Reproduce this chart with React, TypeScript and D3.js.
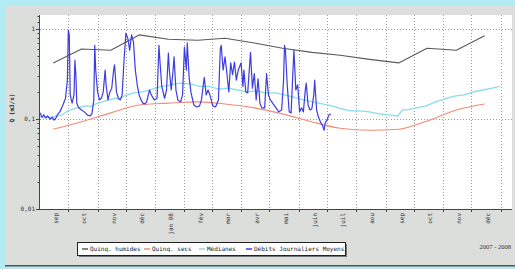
import { useEffect } from "react";
import * as d3 from "d3";

const W = 515;
const H = 269;

// month labels under the x axis (one per month, Sep 2007 .. Dec 2008)
const monthLabels = ["sep", "oct", "nov", "déc", "jan 08", "fév", "mar", "avr", "mai", "juin", "juil", "aou", "sep", "oct", "nov", "déc"];

const yTicks = [0.01, 0.1, 1];
const yTickLabels = ["0,01", "0,1", "1"];

// monthly reference curves (mid-month points)
const monthlyDates = ["2007-09-15", "2007-10-15", "2007-11-15", "2007-12-15", "2008-01-15", "2008-02-15", "2008-03-15", "2008-04-15", "2008-05-15", "2008-06-15", "2008-07-15", "2008-08-15", "2008-09-15", "2008-10-15", "2008-11-15", "2008-12-15"];
const wetQuintile = [0.42, 0.6, 0.58, 0.86, 0.77, 0.75, 0.79, 0.7, 0.61, 0.55, 0.51, 0.46, 0.42, 0.61, 0.58, 0.84];
const dryQuintile = [0.077, 0.093, 0.117, 0.143, 0.15, 0.155, 0.147, 0.133, 0.114, 0.093, 0.079, 0.075, 0.077, 0.095, 0.126, 0.147];

// medians
const medianDates = ["2007-09-01", "2007-09-10", "2007-09-20", "2007-09-25", "2007-09-30", "2007-10-10", "2007-10-20", "2007-10-25", "2007-10-30", "2007-11-09", "2007-11-19", "2007-11-24", "2007-11-29", "2007-12-09", "2007-12-19", "2007-12-29", "2008-01-08", "2008-01-18", "2008-01-28", "2008-02-07", "2008-02-17", "2008-02-27", "2008-03-08", "2008-03-18", "2008-03-28", "2008-04-07", "2008-04-17", "2008-04-27", "2008-05-07", "2008-05-17", "2008-05-27", "2008-06-06", "2008-06-16", "2008-06-26", "2008-07-06", "2008-07-16", "2008-07-26", "2008-08-05", "2008-08-15", "2008-08-25", "2008-09-04", "2008-09-14", "2008-09-19", "2008-09-24", "2008-10-04", "2008-10-14", "2008-10-24", "2008-11-03", "2008-11-13", "2008-11-23", "2008-12-03", "2008-12-13", "2008-12-23", "2008-12-31"];
const medianFlows = [0.105, 0.103, 0.108, 0.112, 0.122, 0.133, 0.14, 0.138, 0.147, 0.158, 0.17, 0.166, 0.18, 0.195, 0.2, 0.215, 0.23, 0.24, 0.25, 0.245, 0.23, 0.23, 0.215, 0.22, 0.21, 0.2, 0.205, 0.195, 0.195, 0.185, 0.175, 0.163, 0.155, 0.147, 0.14, 0.13, 0.123, 0.123, 0.12, 0.114, 0.111, 0.108, 0.126, 0.126, 0.133, 0.14, 0.155, 0.167, 0.18, 0.185, 0.2, 0.21, 0.22, 0.23];

// daily mean flows 2007-2008
const dailyDates = ["2007-09-01", "2007-09-03", "2007-09-05", "2007-09-07", "2007-09-09", "2007-09-12", "2007-09-14", "2007-09-16", "2007-09-18", "2007-09-20", "2007-09-22", "2007-09-24", "2007-09-26", "2007-09-28", "2007-09-30", "2007-10-01", "2007-10-02", "2007-10-03", "2007-10-05", "2007-10-07", "2007-10-08", "2007-10-09", "2007-10-10", "2007-10-12", "2007-10-15", "2007-10-18", "2007-10-21", "2007-10-24", "2007-10-26", "2007-10-28", "2007-10-29", "2007-10-30", "2007-11-01", "2007-11-03", "2007-11-05", "2007-11-07", "2007-11-09", "2007-11-10", "2007-11-12", "2007-11-14", "2007-11-16", "2007-11-18", "2007-11-19", "2007-11-21", "2007-11-23", "2007-11-25", "2007-11-27", "2007-11-29", "2007-12-01", "2007-12-03", "2007-12-05", "2007-12-07", "2007-12-09", "2007-12-11", "2007-12-13", "2007-12-15", "2007-12-17", "2007-12-19", "2007-12-21", "2007-12-23", "2007-12-26", "2007-12-28", "2007-12-31", "2008-01-03", "2008-01-05", "2008-01-06", "2008-01-08", "2008-01-11", "2008-01-13", "2008-01-15", "2008-01-16", "2008-01-18", "2008-01-20", "2008-01-21", "2008-01-23", "2008-01-25", "2008-01-28", "2008-01-30", "2008-02-01", "2008-02-03", "2008-02-04", "2008-02-06", "2008-02-08", "2008-02-11", "2008-02-14", "2008-02-17", "2008-02-19", "2008-02-22", "2008-02-24", "2008-02-26", "2008-02-28", "2008-03-02", "2008-03-05", "2008-03-08", "2008-03-10", "2008-03-11", "2008-03-13", "2008-03-15", "2008-03-17", "2008-03-19", "2008-03-21", "2008-03-23", "2008-03-25", "2008-03-27", "2008-03-29", "2008-04-01", "2008-04-03", "2008-04-04", "2008-04-06", "2008-04-08", "2008-04-11", "2008-04-13", "2008-04-15", "2008-04-17", "2008-04-19", "2008-04-21", "2008-04-23", "2008-04-26", "2008-04-28", "2008-04-30", "2008-05-02", "2008-05-05", "2008-05-08", "2008-05-11", "2008-05-14", "2008-05-16", "2008-05-17", "2008-05-18", "2008-05-20", "2008-05-22", "2008-05-24", "2008-05-26", "2008-05-27", "2008-05-29", "2008-05-31", "2008-06-02", "2008-06-04", "2008-06-06", "2008-06-08", "2008-06-09", "2008-06-11", "2008-06-13", "2008-06-15", "2008-06-17", "2008-06-18", "2008-06-20", "2008-06-22", "2008-06-24", "2008-06-26", "2008-06-28", "2008-06-29", "2008-07-01", "2008-07-03", "2008-07-05"];
const dailyFlows = [0.117, 0.105, 0.111, 0.103, 0.108, 0.1, 0.105, 0.097, 0.103, 0.114, 0.12, 0.133, 0.15, 0.17, 0.27, 0.97, 0.86, 0.185, 0.15, 0.185, 0.45, 0.31, 0.15, 0.133, 0.126, 0.12, 0.111, 0.108, 0.114, 0.163, 0.66, 0.35, 0.2, 0.163, 0.17, 0.2, 0.35, 0.24, 0.163, 0.2, 0.22, 0.35, 0.4, 0.2, 0.17, 0.163, 0.185, 0.45, 0.9, 0.79, 0.58, 0.86, 0.72, 0.35, 0.24, 0.185, 0.163, 0.15, 0.147, 0.155, 0.21, 0.185, 0.163, 0.17, 0.66, 0.45, 0.23, 0.17, 0.21, 0.54, 0.35, 0.21, 0.35, 0.49, 0.21, 0.163, 0.155, 0.185, 0.63, 0.35, 0.7, 0.29, 0.195, 0.143, 0.136, 0.14, 0.163, 0.29, 0.185, 0.21, 0.185, 0.14, 0.136, 0.163, 0.6, 0.66, 0.35, 0.49, 0.32, 0.2, 0.42, 0.31, 0.43, 0.27, 0.35, 0.42, 0.23, 0.35, 0.2, 0.195, 0.55, 0.22, 0.32, 0.163, 0.28, 0.15, 0.133, 0.133, 0.32, 0.185, 0.163, 0.147, 0.133, 0.12, 0.126, 0.27, 0.66, 0.58, 0.23, 0.12, 0.117, 0.35, 0.58, 0.21, 0.24, 0.12, 0.133, 0.12, 0.21, 0.25, 0.143, 0.126, 0.13, 0.185, 0.27, 0.126, 0.105, 0.093, 0.086, 0.075, 0.09, 0.097, 0.111, 0.114];

const legendNames = ["Quinq. humides", "Quinq. secs", "Médianes", "Débits Journaliers Moyens"];
const colors = ["#5a5a5a", "#f28c74", "#8adcee", "#3c3ce0"];

const parse = d3.timeParse("%Y-%m-%d");
const mono = "'DejaVu Sans Mono', monospace";

export default function App() {
  useEffect(() => {
    document.body.style.margin = "0";
  }, []);

  const plot = { left: 40, right: 512, top: 15, bottom: 209 };

  const x = d3.scaleTime()
    .domain([parse("2007-09-01")!, parse("2009-01-13")!])
    .range([plot.left, plot.right]);
  const y = d3.scaleLog().domain([0.01, 1]).range([plot.bottom, 29]);

  const months = d3.timeMonth.range(parse("2007-09-01")!, parse("2009-01-01")!);
  const gridMonths = months.slice(1).concat([parse("2009-01-01")!]);

  const line = d3.line<[Date, number]>().x(d => x(d[0])).y(d => y(d[1]));
  const smooth = d3.line<[Date, number]>().x(d => x(d[0])).y(d => y(d[1])).curve(d3.curveMonotoneX);

  const zip = (dates: string[], vals: number[]) => dates.map((s, i) => [parse(s)!, vals[i]] as [Date, number]);

  const minor: number[] = [];
  [0.01, 0.1].forEach(dec => { for (let k = 2; k <= 9; k++) minor.push(dec * k); });
  const topMinor = [1.2, 1.4].filter(v => y(v) > plot.top);

  const legendX = [82, 144, 199, 246];

  return (
    <svg width={W} height={H} style={{ display: "block" }}>
      <rect x={0} y={0} width={W} height={H} fill="#b3ebf4" />
      <rect x={5} y={5} width={W - 5} height={261} fill="#dcdedc" />
      <rect x={5} y={265} width={W - 5} height={1.5} fill="#555" />
      <rect x={plot.left} y={plot.top} width={plot.right - plot.left} height={plot.bottom - plot.top} fill="#fff" />

      {/* grid */}
      <g stroke="#9a9a9a" strokeWidth={1} strokeDasharray="1,2">
        {gridMonths.map((m, i) => (
          <line key={i} x1={Math.round(x(m)) + 0.5} x2={Math.round(x(m)) + 0.5} y1={plot.top} y2={plot.bottom} />
        ))}
        {[0.1, 1].map((v, i) => (
          <line key={i} x1={plot.left} x2={plot.right} y1={Math.round(y(v)) + 0.5} y2={Math.round(y(v)) + 0.5} />
        ))}
      </g>

      {/* series */}
      <g fill="none" strokeLinejoin="round">
        <path d={line(zip(monthlyDates, wetQuintile))!} stroke={colors[0]} strokeWidth={1.1} />
        <path d={smooth(zip(monthlyDates, dryQuintile))!} stroke={colors[1]} strokeWidth={1.1} />
        <path d={line(zip(medianDates, medianFlows))!} stroke={colors[2]} strokeWidth={1.3} />
        <path d={line(zip(dailyDates, dailyFlows))!} stroke={colors[3]} strokeWidth={1.2} />
      </g>

      {/* axes */}
      <g stroke="#444" strokeWidth={1}>
        <line x1={plot.left - 0.5} x2={plot.left - 0.5} y1={plot.top} y2={plot.bottom + 0.5} />
        <line x1={plot.left - 0.5} x2={plot.right} y1={plot.bottom + 0.5} y2={plot.bottom + 0.5} />
        {yTicks.map((v, i) => (
          <line key={i} x1={plot.left - 4} x2={plot.left} y1={Math.round(y(v)) + 0.5} y2={Math.round(y(v)) + 0.5} />
        ))}
        {minor.concat(topMinor).map((v, i) => (
          <line key={i} x1={plot.left - 2.5} x2={plot.left} y1={Math.round(y(v)) + 0.5} y2={Math.round(y(v)) + 0.5} />
        ))}
        {gridMonths.map((m, i) => (
          <line key={i} x1={Math.round(x(m)) + 0.5} x2={Math.round(x(m)) + 0.5} y1={plot.bottom} y2={plot.bottom + 3} />
        ))}
      </g>

      <g fontFamily={mono} fontSize={6} fill="#333">
        {yTicks.map((v, i) => (
          <text key={i} x={plot.left - 5} y={y(v)} dy="0.35em" textAnchor="end">{yTickLabels[i]}</text>
        ))}
        {months.map((m, i) => {
          const cx = x(d3.timeDay.offset(m, 17));
          return (
            <text key={i} transform={`translate(${cx},${plot.bottom + 4}) rotate(-90)`} dy="0.35em" textAnchor="end">
              {monthLabels[i]}
            </text>
          );
        })}
        <text transform={`translate(12,108) rotate(-90)`} textAnchor="middle" dy="0.35em" fontWeight="bold">Q (m3/s)</text>
      </g>

      {/* legend */}
      <rect x={79} y={244} width={268} height={13} fill="#777" />
      <rect x={77.5} y={242.5} width={268} height={13} fill="#fff" stroke="#222" />
      <g fontFamily={mono} fontSize={6} fill="#222">
        {legendNames.map((name, i) => (
          <g key={i} transform={`translate(${legendX[i]},249)`}>
            <line x1={0} x2={6} y1={0} y2={0} stroke={colors[i]} strokeWidth={1.5} />
            <text x={8} y={0} dy="0.35em">{name}</text>
          </g>
        ))}
      </g>

      <text x={511} y={249} textAnchor="end" fontFamily="'Liberation Serif', serif" fontSize={6.5} fill="#333">2007 - 2008</text>
    </svg>
  );
}
